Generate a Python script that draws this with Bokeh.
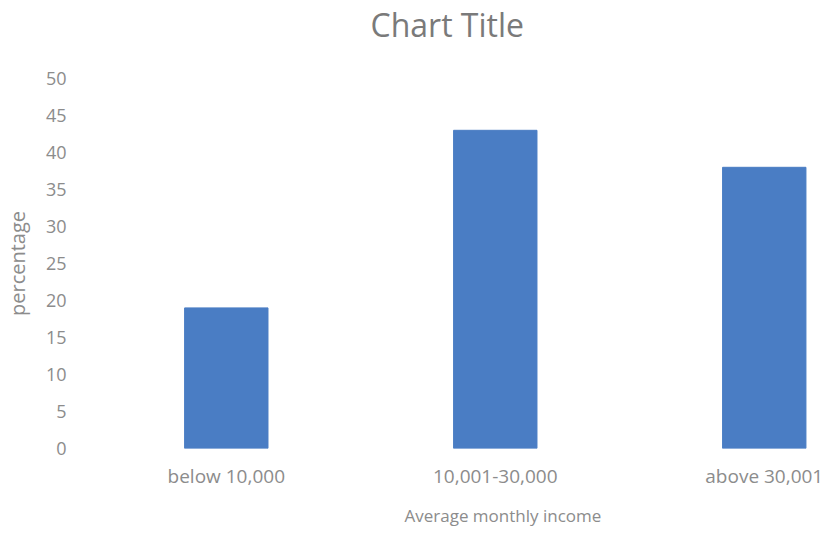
from bokeh.plotting import figure
from bokeh.models import FixedTicker, Range1d, Title
from bokeh.embed import file_html
from bokeh.resources import INLINE
import numpy as np

categories = ["below 10,000", "10,001-30,000", "above 30,001"]
percentages = [19, 43, 38]
y_ticks = [0, 5, 10, 15, 20, 25, 30, 35, 40, 45, 50]

FONT = "Open Sans"
TEXT = "#8c8c8c"

xs = np.arange(len(categories))

p = figure(width=831, height=541, output_backend="svg", toolbar_location=None,
           x_range=Range1d(-0.49, 2.25), y_range=Range1d(0, 50),
           min_border_left=85, min_border_right=0, min_border_bottom=93, min_border_top=0)
p.outline_line_color = None
p.background_fill_color = "white"
p.border_fill_color = "white"

p.vbar(x=xs, top=percentages, width=0.31, fill_color="#4a7dc4", line_color="#4a7dc4")

spacer = Title(text=" ", text_font=FONT, text_font_size="2px", standoff=28)
p.add_layout(spacer, "above")
title = Title(text="Chart Title", align="left", offset=276, text_font=FONT, text_font_size="32px",
              text_color="#7a7a7a", text_font_style="normal", standoff=0)
p.add_layout(title, "above")

p.xaxis.ticker = FixedTicker(ticks=list(xs))
p.xaxis.major_label_overrides = {int(i): c for i, c in zip(xs, categories)}
p.yaxis.ticker = FixedTicker(ticks=y_ticks)

for ax in (p.xaxis[0], p.yaxis[0]):
    ax.axis_line_color = None
    ax.major_tick_line_color = None
    ax.minor_tick_line_color = None
    ax.major_label_text_font = FONT
    ax.major_label_text_color = TEXT
    ax.axis_label_text_font = FONT
    ax.axis_label_text_color = TEXT
    ax.axis_label_text_font_style = "normal"

xt = Title(text="Average monthly income", align="left", offset=310, text_font=FONT,
           text_font_size="17px", text_color=TEXT, text_font_style="normal", standoff=20)
p.add_layout(xt, "below")

p.yaxis.axis_label = "percentage"
p.xaxis.major_label_text_font_size = "19px"
p.yaxis.major_label_text_font_size = "18px"
p.yaxis.axis_label_text_font_size = "20px"
p.xaxis.major_label_standoff = 8
p.yaxis.major_label_standoff = 22
p.yaxis.axis_label_standoff = 12
p.xgrid.grid_line_color = None
p.ygrid.grid_line_color = None

open("out.html", "w").write(file_html(p, INLINE))
